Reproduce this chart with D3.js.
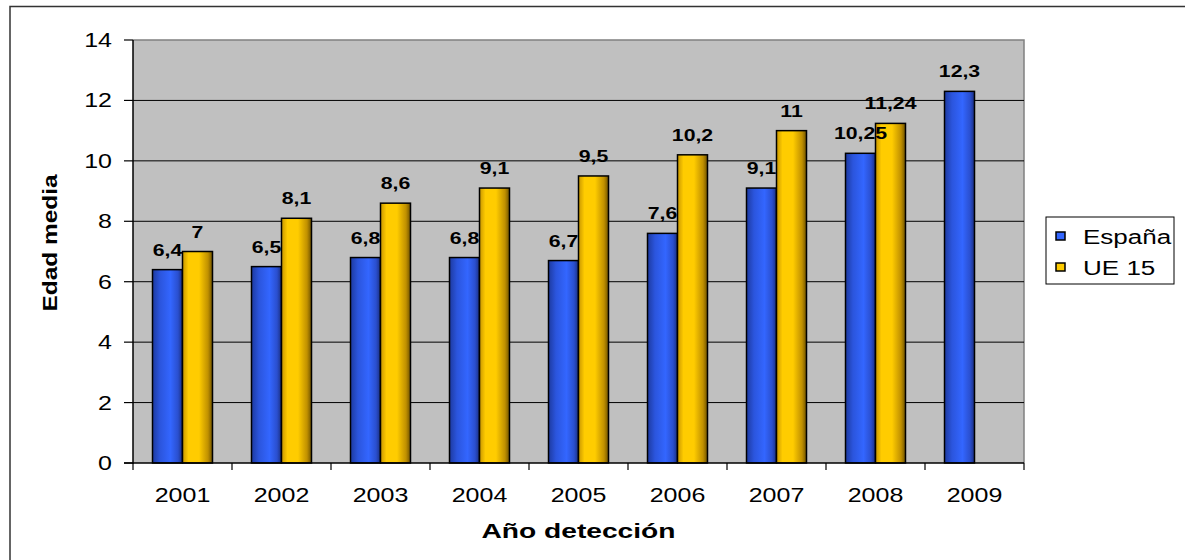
<!DOCTYPE html>
<html>
<head>
<meta charset="utf-8">
<script src="https://cdn.jsdelivr.net/npm/d3@7.9.0/dist/d3.min.js"></script>
<style>
  body { margin: 0; background: #fff; }
  text { font-family: "Liberation Sans", Arial, sans-serif; fill: #000; }
</style>
</head>
<body>
<svg width="1185" height="560"></svg>
<script>
// chart data
const years = ['2001', '2002', '2003', '2004', '2005', '2006', '2007', '2008', '2009'];
const espana = [6.4, 6.5, 6.8, 6.8, 6.7, 7.6, 9.1, 10.25, 12.3];
const ue15 = [7, 8.1, 8.6, 9.1, 9.5, 10.2, 11, 11.24, null];
const seriesNames = ['España', 'UE 15'];
const yTicks = [0, 2, 4, 6, 8, 10, 12, 14];

const svg = d3.select('svg');
const plotL = 133, plotR = 1024, plotT = 40, plotB = 463;
const sx = 1.25; // text in the picture is a bit wider than normal

// outer frame
svg.append('rect')
    .attr('x', 10).attr('y', 6.5)
    .attr('width', 1200).attr('height', 600)
    .attr('fill', 'none').attr('stroke', '#333').attr('stroke-width', 1.5);

// gradients
const defs = svg.append('defs');
function grad(id, stops) {
    let g = defs.append('linearGradient').attr('id', id)
        .attr('x1', '0%').attr('x2', '100%').attr('y1', '0%').attr('y2', '0%');
    stops.forEach(([o, c]) => g.append('stop').attr('offset', o).attr('stop-color', c));
}
grad('gBlue', [['0%', '#1d3aa0'], ['25%', '#2b55dd'], ['60%', '#3366ff'], ['85%', '#2a4fcf'], ['100%', '#1a2e80']]);
grad('gYellow', [['0%', '#c89600'], ['20%', '#ffcc00'], ['55%', '#ffcc00'], ['85%', '#c09000'], ['100%', '#6e5200']]);
const fills = ['url(#gBlue)', 'url(#gYellow)'];
const swatch = ['#3366ff', '#ffcc00'];

const x = d3.scaleBand().domain(years).range([plotL, plotR]);
const xs = d3.scaleBand().domain([0, 1]).range([0, 60]);
const y = d3.scaleLinear().domain([0, 14]).range([plotB, plotT]);

// plot area
svg.append('rect')
    .attr('x', plotL).attr('y', plotT)
    .attr('width', plotR - plotL).attr('height', plotB - plotT)
    .attr('fill', '#c0c0c0');
svg.append('path')
    .attr('d', `M${plotL},${plotT}H${plotR}V${plotB}`)
    .attr('fill', 'none').attr('stroke', '#808080').attr('stroke-width', 1.5);

// gridlines
svg.selectAll('.grid').data(yTicks.filter(t => t > 0 && t < 14)).enter()
    .append('line')
    .attr('x1', plotL).attr('x2', plotR)
    .attr('y1', d => y(d)).attr('y2', d => y(d))
    .attr('stroke', '#000').attr('stroke-width', 1);

// bars
const data = [espana, ue15];
data.forEach((vals, si) => {
    vals.forEach((v, i) => {
        if (v == null) return;
        const bx = x(years[i]) + x.bandwidth() / 2 - 30 + xs(si);
        svg.append('rect')
            .attr('x', bx).attr('y', y(v))
            .attr('width', xs.bandwidth()).attr('height', plotB - y(v))
            .attr('fill', fills[si])
            .attr('stroke', '#000').attr('stroke-width', 1.5);
    });
});

// data labels
data.forEach((vals, si) => {
    vals.forEach((v, i) => {
        if (v == null) return;
        const cx = x(years[i]) + x.bandwidth() / 2 - 30 + xs(si) + xs.bandwidth() / 2;
        svg.append('text')
            .attr('transform', `translate(${cx},${y(v) - 14}) scale(${sx},1)`)
            .attr('text-anchor', 'middle')
            .attr('font-size', 17).attr('font-weight', 'bold')
            .text(String(v).replace('.', ','));
    });
});

// axes
svg.append('line').attr('x1', plotL).attr('x2', plotL).attr('y1', plotT).attr('y2', plotB + 1)
    .attr('stroke', '#000').attr('stroke-width', 1.5);
svg.append('line').attr('x1', plotL - 9).attr('x2', plotR).attr('y1', plotB).attr('y2', plotB)
    .attr('stroke', '#000').attr('stroke-width', 1.5);

yTicks.forEach(t => {
    svg.append('line').attr('x1', plotL - 9).attr('x2', plotL).attr('y1', y(t)).attr('y2', y(t))
        .attr('stroke', '#000').attr('stroke-width', 1.2);
    svg.append('text')
        .attr('transform', `translate(${112},${y(t) + 7}) scale(${sx},1)`)
        .attr('text-anchor', 'end').attr('font-size', 20)
        .text(t);
});

years.concat(['end']).forEach((yr, i) => {
    const tx = plotL + i * x.step();
    svg.append('line').attr('x1', tx).attr('x2', tx).attr('y1', plotB).attr('y2', plotB + 7)
        .attr('stroke', '#000').attr('stroke-width', 1.2);
});
years.forEach(yr => {
    svg.append('text')
        .attr('transform', `translate(${x(yr) + x.bandwidth() / 2},${502}) scale(${sx},1)`)
        .attr('text-anchor', 'middle').attr('font-size', 20)
        .text(yr);
});

// axis titles
svg.append('text')
    .attr('x', (plotL + plotR) / 2).attr('y', 538)
    .attr('text-anchor', 'middle').attr('font-size', 20).attr('font-weight', 'bold')
    .attr('textLength', 194).attr('lengthAdjust', 'spacingAndGlyphs')
    .text('Año detección');
svg.append('text')
    .attr('transform', `translate(57,243) rotate(-90)`)
    .attr('text-anchor', 'middle').attr('font-size', 20).attr('font-weight', 'bold')
    .attr('textLength', 137).attr('lengthAdjust', 'spacingAndGlyphs')
    .text('Edad media');

// legend
svg.append('rect')
    .attr('x', 1046).attr('y', 217).attr('width', 128).attr('height', 67)
    .attr('fill', '#fff').attr('stroke', '#000').attr('stroke-width', 1);
seriesNames.forEach((name, i) => {
    const ly = 236 + i * 31;
    svg.append('rect')
        .attr('x', 1056).attr('y', ly - 4).attr('width', 9).attr('height', 8)
        .attr('fill', swatch[i]).attr('stroke', '#000').attr('stroke-width', 1.5);
    svg.append('text')
        .attr('transform', `translate(1083,${ly + 7.5}) scale(1.24,1)`)
        .attr('font-size', 21)
        .text(name);
});
</script>
</body>
</html>
